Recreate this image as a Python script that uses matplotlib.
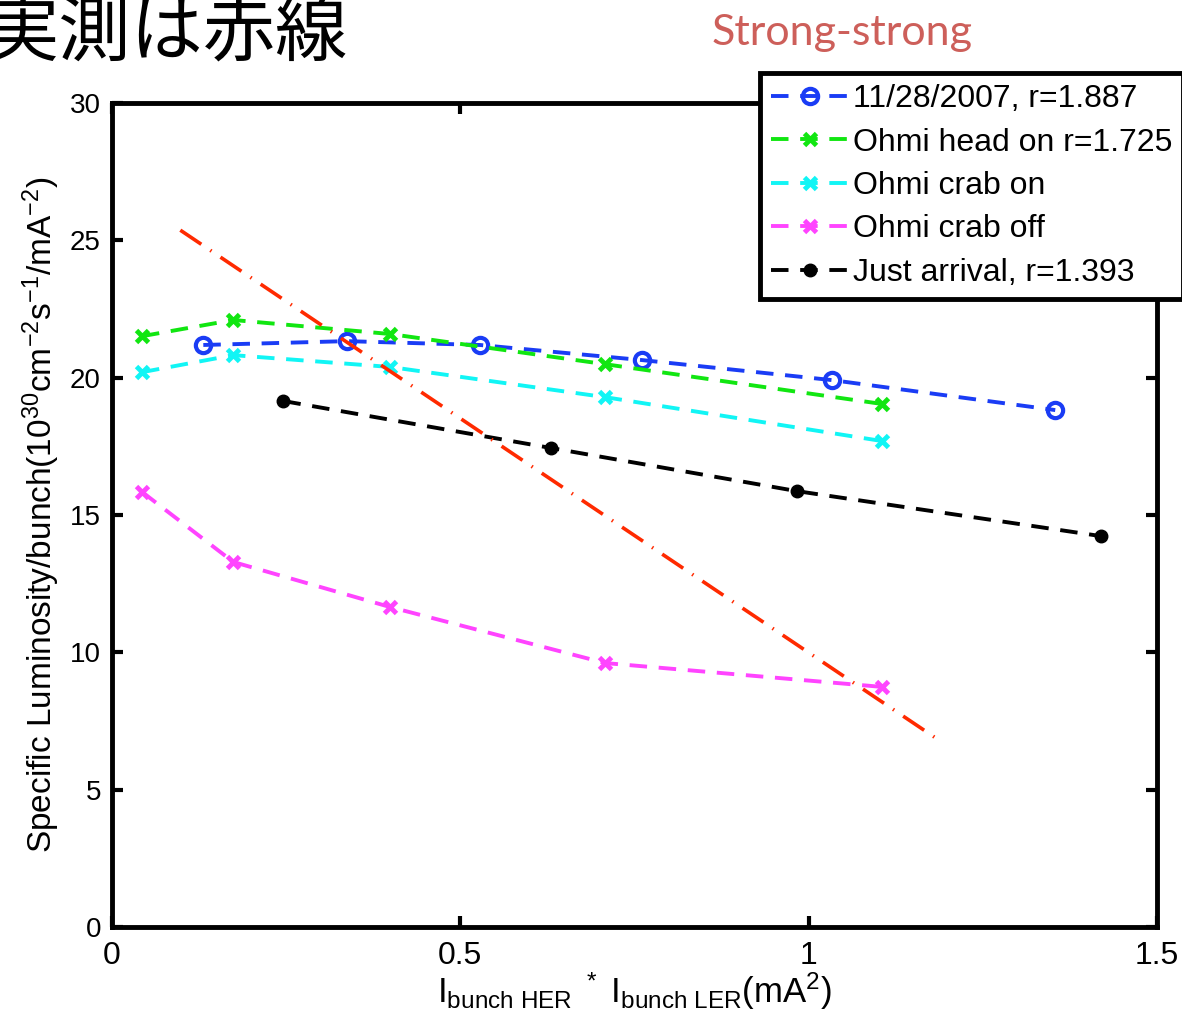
import matplotlib
matplotlib.use("Agg")
import matplotlib.pyplot as plt

plt.rcParams['font.family'] = ['Liberation Sans', 'DejaVu Sans']
plt.rcParams['mathtext.fontset'] = 'custom'
plt.rcParams['mathtext.rm'] = 'Liberation Sans'
plt.rcParams['mathtext.it'] = 'Liberation Sans'

# data
x_meas = [0.131, 0.337, 0.528, 0.761, 1.034, 1.354]
y_meas = [21.19, 21.33, 21.19, 20.64, 19.91, 18.82]

x_ohmi = [0.043, 0.174, 0.399, 0.708, 1.106]
y_head_on = [21.51, 22.10, 21.59, 20.49, 19.04]
y_crab_on = [20.20, 20.82, 20.39, 19.29, 17.69]
y_crab_off = [15.84, 13.29, 11.65, 9.61, 8.74]

x_arrival = [0.246, 0.630, 0.983, 1.420]
y_arrival = [19.15, 17.44, 15.87, 14.23]

x_red = [0.098, 1.193]
y_red = [25.37, 6.70]

xtick_labels = ['0', '0.5', '1', '1.5']
labels = ["11/28/2007, r=1.887", "Ohmi head on r=1.725", "Ohmi crab on",
          "Ohmi crab off", "Just arrival, r=1.393"]

fig = plt.figure(figsize=(11.82, 10.30), dpi=100)
ax = fig.add_axes([0.0948, 0.1, 0.884, 0.8])

lw = 2.8
dash = (0, (4.5, 3.0))
ax.plot(x_meas, y_meas, linestyle=dash, color='#1a3cf5', lw=lw, marker='o',
        ms=11, mfc='none', mew=3, label=labels[0])
ax.plot(x_ohmi, y_head_on, linestyle=dash, color='#11e611', lw=lw, marker='x',
        ms=8, mew=3.5, label=labels[1])
ax.plot(x_ohmi, y_crab_on, linestyle=dash, color='#11f5f5', lw=lw, marker='x',
        ms=8, mew=3.5, label=labels[2])
ax.plot(x_ohmi, y_crab_off, linestyle=dash, color='#ff44ff', lw=lw, marker='x',
        ms=8, mew=3.5, label=labels[3])
ax.plot(x_arrival, y_arrival, linestyle=dash, color='black', lw=lw, marker='o',
        ms=9, label=labels[4])
ax.plot(x_red, y_red, linestyle=(0, (7, 3, 0.4, 3)), color='#ff2a00', lw=2.6)

ax.set_xlim(0, 1.5)
ax.set_ylim(0, 30)
ax.set_yticks(range(0, 31, 5))
ax.tick_params(direction='in', length=8, width=3, top=True, right=True, pad=8)
ax.tick_params(axis='y', labelsize=20)
ax.tick_params(axis='x', pad=10)
ax.set_xticks([0, 0.5, 1, 1.5])
ax.set_xticklabels(xtick_labels, fontsize=23)
for s in ax.spines.values():
    s.set_linewidth(3.5)

ax.set_ylabel(r"Specific Luminosity/bunch(10$^{30}$cm$^{-2}$s$^{-1}$/mA$^{-2}$)",
              fontsize=24, labelpad=6)
ax.set_xlabel(r"I$_{\mathrm{bunch\ HER}}$ $^*$ I$_{\mathrm{bunch\ LER}}$(mA$^2$)",
              fontsize=25, labelpad=0)

leg = ax.legend(loc='upper left', bbox_to_anchor=(760 / 1182, 1 - 73 / 1030),
                bbox_transform=fig.transFigure, fontsize=23, frameon=True,
                fancybox=False, edgecolor='black', framealpha=1,
                handlelength=2.4, handletextpad=0.15, labelspacing=0.42,
                borderpad=0.35, borderaxespad=0)
leg.get_frame().set_linewidth(3.5)

fig.text(-0.012, 0.966, "実測は赤線", fontsize=52, va='center', ha='left',
         family=['Noto Sans CJK JP', 'DejaVu Sans'])
fig.text(0.602, 0.968, "Strong-strong", fontsize=31, va='center', ha='left',
         color='#cd5f5a', family=['Lato', 'DejaVu Sans'])

fig.savefig("out.png", dpi=100)
